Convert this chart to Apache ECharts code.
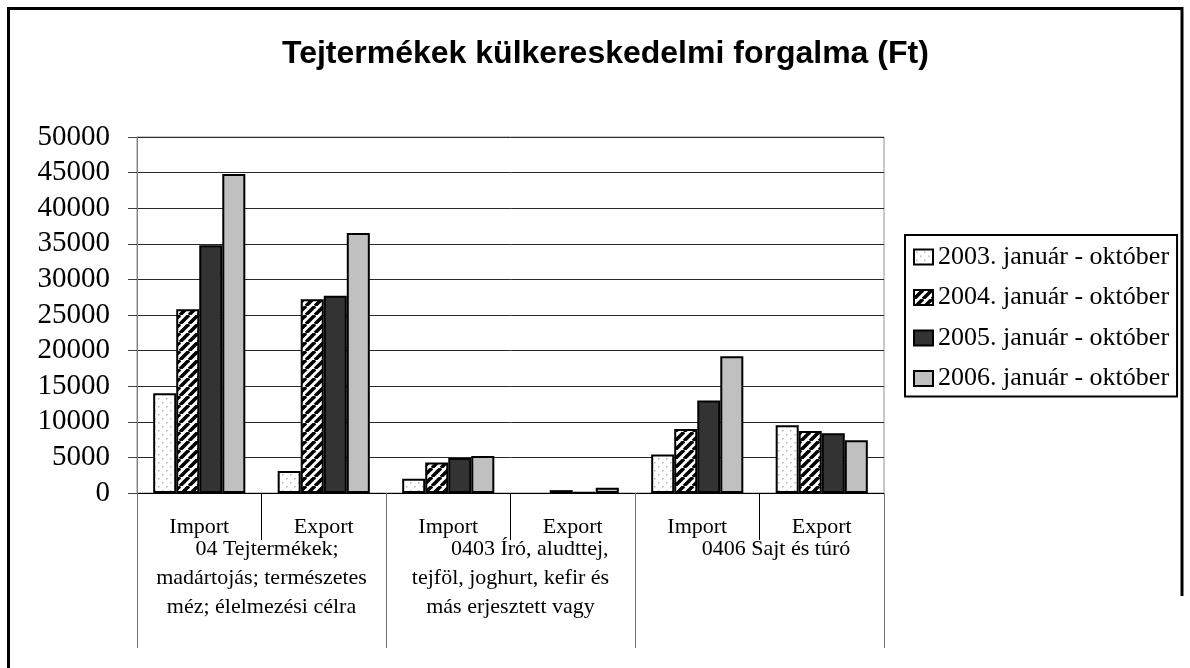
<!DOCTYPE html>
<html lang="hu">

<head>
  <meta charset="UTF-8">
  <title>Tejtermékek külkereskedelmi forgalma</title>
  <style>
    * {
      margin: 0;
      padding: 0;
    }
    body {
      background-color: #ffffff;
    }
    #main {
      width: 1190px;
      height: 668px;
    }
  </style>
</head>

<body>
  <div id="main"></div>
  <script src="https://cdn.jsdelivr.net/npm/echarts@6/dist/echarts.min.js"></script>
  <script>
    // adatok (Ft)
    var title = 'Tejtermékek külkereskedelmi forgalma (Ft)';
    var years = ['2003. január - október', '2004. január - október', '2005. január - október', '2006. január - október'];
    var categories = ['Import', 'Export', 'Import', 'Export', 'Import', 'Export'];
    var groups = [
      '  04 Tejtermékek;\nmadártojás; természetes\nméz; élelmezési célra',
      '       0403 Író, aludttej,\ntejföl, joghurt, kefir és\nmás erjesztett vagy',
      '      0406 Sajt és túró'
    ];
    var v2003 = [14000, 3100, 2000, null, 5400, 9500];
    var v2004 = [25800, 27200, 4300, 400, 9000, 8700];
    var v2005 = [34800, 27700, 4900, 60, 13000, 8400];
    var v2006 = [44800, 36500, 5200, 750, 19200, 7400];
    var yTicks = { min: 0, max: 50000, interval: 5000 };

    var serif = "'Liberation Serif', 'Times New Roman', serif";

    // pettyes minta
    function dotPattern() {
      var c = document.createElement('canvas');
      c.width = 8;
      c.height = 8;
      var ctx = c.getContext('2d');
      ctx.fillStyle = '#ffffff';
      ctx.fillRect(0, 0, 8, 8);
      ctx.fillStyle = '#b4b4b4';
      ctx.fillRect(2, 2, 1.5, 1.5);
      ctx.fillRect(6, 6, 1.5, 1.5);
      return { image: c, repeat: 'repeat' };
    }

    // ferde csíkos minta
    function stripePattern() {
      var s = 9;
      var c = document.createElement('canvas');
      c.width = s;
      c.height = s;
      var ctx = c.getContext('2d');
      ctx.fillStyle = '#ffffff';
      ctx.fillRect(0, 0, s, s);
      ctx.strokeStyle = '#000000';
      ctx.lineWidth = 3.5;
      for (var k = -s; k <= s; k += s) {
        ctx.beginPath();
        ctx.moveTo(k, s);
        ctx.lineTo(k + s, 0);
        ctx.stroke();
      }
      return { image: c, repeat: 'repeat' };
    }

    var fills = [dotPattern(), stripePattern(), '#333333', '#c0c0c0'];
    var values = [v2003, v2004, v2005, v2006];

    var series = [];
    for (var i = 0; i < years.length; i++) {
      series.push({
        name: years[i],
        type: 'bar',
        xAxisIndex: 0,
        barGap: '0%',
        barCategoryGap: '26%',
        itemStyle: {
          color: fills[i],
          borderColor: '#000000',
          borderWidth: 2
        },
        data: values[i]
      });
    }

    var myChart = echarts.init(document.getElementById('main'));
    var option = {
      animation: false,
      backgroundColor: '#ffffff',
      title: {
        text: title,
        left: 282,
        top: 38,
        padding: 0,
        textStyle: {
          fontFamily: "'Liberation Sans', Arial, sans-serif",
          fontWeight: 'bold',
          fontSize: 32,
          color: '#000000'
        }
      },
      legend: {
        orient: 'vertical',
        left: 905,
        top: 235,
        padding: [9, 8, 5, 8],
        itemGap: 14.5,
        itemWidth: 19,
        itemHeight: 15,
        icon: 'rect',
        borderColor: '#000000',
        borderWidth: 2,
        backgroundColor: '#ffffff',
        textStyle: {
          fontFamily: serif,
          fontSize: 26,
          color: '#000000'
        },
        data: years
      },
      grid: {
        left: 137,
        right: 306,
        top: 137,
        bottom: 175,
        show: true,
        borderColor: '#909090',
        borderWidth: 1
      },
      xAxis: [
        {
          type: 'category',
          position: 'bottom',
          data: categories,
          axisLine: { show: true, lineStyle: { color: '#000000', width: 1 } },
          axisTick: { show: true, interval: 0, length: 47, lineStyle: { color: '#000000', width: 1 } },
          axisLabel: {
            interval: 0,
            margin: 23,
            fontFamily: serif,
            fontSize: 22,
            color: '#000000'
          }
        },
        {
          type: 'category',
          position: 'bottom',
          data: groups,
          axisLine: { show: false },
          axisTick: { show: true, interval: 0, length: 155, lineStyle: { color: '#707070', width: 1 } },
          axisLabel: {
            interval: 0,
            margin: 42,
            fontFamily: serif,
            fontSize: 22,
            lineHeight: 29,
            color: '#000000'
          }
        }
      ],
      yAxis: {
        type: 'value',
        min: yTicks.min,
        max: yTicks.max,
        interval: yTicks.interval,
        axisLine: { show: true, lineStyle: { color: '#808080' } },
        axisTick: { show: true, length: 9, lineStyle: { color: '#404040' } },
        axisLabel: {
          margin: 27,
          fontFamily: serif,
          fontSize: 29,
          color: '#000000',
          formatter: function (v) { return String(v); }
        },
        splitLine: { lineStyle: { color: '#2a2a2a', width: 1 } }
      },
      // keret
      graphic: [
        { type: 'line', shape: { x1: 8.5, y1: 8.5, x2: 8.5, y2: 668 }, style: { stroke: '#000', lineWidth: 3 } },
        { type: 'line', shape: { x1: 7, y1: 8.5, x2: 1183, y2: 8.5 }, style: { stroke: '#000', lineWidth: 3 } },
        { type: 'line', shape: { x1: 1182, y1: 7, x2: 1182, y2: 596 }, style: { stroke: '#000', lineWidth: 3 } }
      ],
      series: series
    };

    myChart.setOption(option);
  </script>

</body>

</html>
